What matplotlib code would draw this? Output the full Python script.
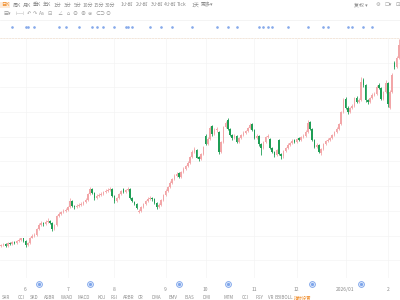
import matplotlib
matplotlib.use("Agg")
from matplotlib import pyplot as plt
from matplotlib.transforms import blended_transform_factory
import numpy as np

plt.rcParams['font.family'] = ['Noto Sans CJK SC', 'DejaVu Sans']

# daily K-line, late May 2025 -> early Feb 2026
open_ = [15.4, 15.5, 15.6, 15.4, 15.7, 15.6, 15.8, 15.7, 15.9, 16.0,
         16.2, 15.9, 15.5, 15.7, 16.3, 16.5, 16.6, 17.2, 17.6, 17.8,
         17.7, 17.9, 18.0, 17.8, 17.2, 17.6, 18.5, 18.7, 18.9, 19.0,
         19.1, 19.4, 20.0, 19.5, 19.4, 19.5, 19.6, 19.7, 19.9, 20.1,
         20.7, 21.2, 20.8, 20.3, 20.5, 20.6, 20.7, 20.9, 21.0, 21.1,
         21.2, 20.5, 20.0, 20.3, 20.7, 21.2, 20.9, 21.1, 21.2, 20.3,
         19.9, 19.7, 18.9, 19.0, 19.4, 19.7, 20.0, 20.2, 20.3, 20.2,
         19.8, 19.4, 19.6, 20.1, 20.6, 21.0, 21.4, 21.8, 22.2, 22.5,
         22.8, 22.4, 22.9, 23.2, 23.5, 23.8, 24.5, 25.0, 25.2, 24.5,
         24.2, 24.8, 26.6, 25.8, 26.3, 27.6, 26.8, 27.2, 27.0, 25.0,
         26.0, 27.5, 28.2, 27.3, 26.7, 26.4, 26.6, 26.0, 26.4, 26.7,
         26.9, 27.1, 27.4, 27.8, 27.2, 26.4, 26.6, 25.8, 25.4, 26.0,
         26.5, 26.3, 25.4, 25.0, 24.7, 26.2, 24.8, 24.6, 25.1, 25.4,
         25.7, 25.9, 26.2, 26.0, 26.4, 26.2, 26.5, 26.6, 27.0, 28.0,
         27.3, 26.2, 25.5, 25.7, 24.9, 25.3, 25.8, 26.1, 26.2, 26.4,
         26.7, 27.0, 27.3, 27.8, 29.0, 30.3, 29.4, 29.0, 29.4, 29.6,
         30.4, 30.0, 30.2, 32.2, 31.7, 30.2, 30.0, 30.4, 30.7, 30.8,
         31.7, 31.4, 30.3, 31.0, 31.9, 29.4, 31.0, 34.0, 33.6, 34.5]
close = [15.5, 15.6, 15.4, 15.7, 15.6, 15.8, 15.7, 15.9, 16.0, 16.2,
         15.9, 15.5, 15.7, 16.3, 16.5, 16.6, 17.2, 17.6, 17.8, 17.7,
         17.9, 18.0, 17.8, 17.2, 17.6, 18.5, 18.7, 18.9, 19.0, 19.1,
         19.4, 20.0, 19.5, 19.4, 19.5, 19.6, 19.7, 19.9, 20.1, 20.7,
         21.2, 20.8, 20.3, 20.5, 20.6, 20.7, 20.9, 21.0, 21.1, 21.2,
         20.5, 20.0, 20.3, 20.7, 21.0, 20.9, 21.1, 21.2, 20.3, 20.0,
         19.7, 19.3, 19.0, 19.4, 19.7, 20.0, 20.2, 20.3, 20.2, 19.8,
         19.4, 19.6, 20.1, 20.6, 21.0, 21.4, 21.8, 22.2, 22.5, 22.7,
         22.4, 22.9, 23.2, 23.5, 23.8, 24.5, 25.0, 25.3, 24.4, 24.2,
         24.8, 25.5, 25.8, 26.3, 27.4, 26.8, 27.2, 27.3, 25.0, 26.0,
         27.5, 27.9, 27.3, 26.7, 26.4, 26.6, 26.0, 26.4, 26.7, 26.9,
         27.1, 27.4, 27.7, 27.2, 26.4, 26.6, 25.8, 25.4, 26.0, 26.5,
         26.6, 25.4, 25.0, 24.7, 25.2, 24.8, 24.6, 25.1, 25.4, 25.7,
         25.9, 26.1, 26.0, 26.3, 26.2, 26.5, 26.6, 27.0, 27.9, 27.3,
         26.2, 25.5, 25.7, 25.0, 25.3, 25.8, 26.1, 26.2, 26.4, 26.7,
         27.0, 27.3, 27.8, 29.0, 30.2, 29.4, 29.0, 29.4, 29.6, 30.4,
         30.0, 30.2, 32.0, 31.7, 30.2, 30.0, 30.4, 30.7, 30.8, 31.5,
         31.4, 30.3, 31.0, 31.9, 29.8, 31.0, 32.8, 33.6, 34.5, 35.8]
high = [15.6, 15.7, 15.7, 15.8, 15.8, 15.9, 15.9, 16.0, 16.2, 16.3,
        16.3, 16.0, 15.8, 16.4, 16.7, 16.8, 17.3, 17.8, 18.0, 17.9,
        18.1, 18.3, 18.1, 17.9, 17.7, 18.6, 18.9, 19.0, 19.2, 19.3,
        19.5, 20.3, 20.1, 19.6, 19.7, 19.8, 19.9, 20.0, 20.3, 20.8,
        21.4, 21.3, 20.9, 20.7, 20.8, 20.9, 21.0, 21.2, 21.3, 21.4,
        21.3, 20.6, 20.4, 20.8, 21.1, 21.3, 21.2, 21.4, 21.3, 20.4,
        20.0, 19.8, 19.2, 19.5, 19.8, 20.1, 20.4, 20.5, 20.4, 20.3,
        19.9, 19.8, 20.2, 20.7, 21.2, 21.5, 22.0, 22.3, 22.7, 22.9,
        22.9, 23.0, 23.4, 23.6, 24.0, 24.6, 25.2, 25.5, 25.3, 24.6,
        24.9, 25.6, 26.8, 26.5, 27.6, 27.7, 27.4, 27.5, 27.1, 26.1,
        27.6, 28.1, 28.4, 27.4, 26.8, 26.8, 26.7, 26.5, 26.8, 27.1,
        27.2, 27.5, 27.9, 27.9, 27.3, 26.8, 26.7, 25.9, 26.1, 26.6,
        26.8, 26.4, 25.5, 25.1, 25.3, 26.3, 24.9, 25.2, 25.5, 25.9,
        26.0, 26.3, 26.3, 26.4, 26.5, 26.6, 26.8, 27.2, 28.2, 28.1,
        27.4, 26.3, 25.9, 25.8, 25.4, 25.9, 26.2, 26.4, 26.5, 26.8,
        27.1, 27.5, 27.9, 29.1, 30.4, 30.5, 29.6, 29.5, 29.8, 30.5,
        30.6, 30.4, 32.6, 32.4, 31.8, 30.3, 30.5, 30.9, 31.0, 31.7,
        31.9, 31.5, 31.1, 32.2, 32.0, 31.2, 33.0, 34.2, 34.7, 36.4]
low = [15.3, 15.4, 15.3, 15.3, 15.5, 15.5, 15.6, 15.6, 15.8, 15.9,
       15.8, 15.3, 15.4, 15.6, 16.2, 16.4, 16.5, 17.1, 17.5, 17.5,
       17.6, 17.8, 17.7, 17.0, 17.1, 17.5, 18.4, 18.6, 18.8, 18.9,
       19.0, 19.3, 19.4, 19.2, 19.3, 19.4, 19.5, 19.6, 19.8, 20.0,
       20.6, 20.7, 20.1, 20.2, 20.4, 20.5, 20.6, 20.8, 20.9, 21.0,
       20.4, 19.8, 19.9, 20.2, 20.6, 20.8, 20.8, 21.0, 20.2, 19.9,
       19.6, 19.2, 18.8, 18.9, 19.3, 19.6, 19.9, 20.1, 20.0, 19.7,
       19.2, 19.3, 19.5, 20.0, 20.5, 20.9, 21.3, 21.7, 22.1, 22.4,
       22.3, 22.3, 22.8, 23.1, 23.4, 23.7, 24.4, 24.9, 24.3, 24.0,
       24.1, 24.7, 25.7, 25.7, 26.2, 26.6, 26.7, 27.0, 24.8, 24.9,
       25.9, 27.4, 27.2, 26.6, 26.2, 26.3, 25.9, 25.9, 26.3, 26.6,
       26.8, 27.0, 27.3, 27.1, 26.3, 26.3, 25.6, 24.7, 25.3, 25.9,
       26.4, 25.3, 24.9, 24.5, 24.6, 24.7, 24.2, 24.4, 25.0, 25.3,
       25.6, 25.8, 25.9, 25.9, 26.1, 26.1, 26.4, 26.5, 26.9, 27.2,
       26.1, 25.4, 25.4, 24.9, 24.7, 25.2, 25.7, 26.0, 26.1, 26.3,
       26.6, 26.9, 27.2, 27.7, 28.9, 29.3, 28.8, 28.9, 29.3, 29.5,
       29.9, 29.9, 30.1, 31.5, 30.0, 29.8, 29.9, 30.3, 30.6, 30.7,
       31.3, 30.2, 30.2, 30.9, 29.5, 29.3, 30.9, 33.4, 33.5, 34.4]

month_idx = [11, 30, 51, 74, 92, 114, 133, 155, 174]
month_lbl = ['6', '7', '8', '9', '10', '11', '12', '2026/01', '2']
event_idx = [17, 40, 80, 102, 140, 162]
news_idx = [5, 11, 12, 15, 26, 29, 35, 41, 43, 46, 51, 56, 57, 59, 67, 72,
            77, 86, 97, 102, 106, 116, 118, 120, 122, 129, 138, 145, 147,
            156, 158, 163, 167]

periods = ['日K', '周K', '月K', '季K', '年K', '1分', '3分', '5分', '10分', '15分',
           '30分', '1小时', '2小时', '3小时', '4小时', 'Tick', '1天', '更多▾']
period_x = [5, 17, 27, 37, 47, 57, 68, 78, 88, 99, 110, 127, 142, 157, 170, 182, 195, 207]
tools = ['▤▾', '⊢⊣', '↶', '↷', 'Aa', '⊟', '∠', '⌂', '⊖', '⊕', '⊜', '⊂⊃', '⊙']
tool_x = [7, 20, 29, 35, 42, 50, 60, 68, 75, 83, 90, 100, 108]
indicators = ['SAR', 'CCI', 'SKD', 'ASBR', 'WVAD', 'MACD', 'KDJ', 'RSI', 'ARBR', 'CR',
              'DMA', 'EMV', 'BIAS', 'DMI', 'MTM', 'CCI', 'PSY', 'VR', 'BBIBOLL', '指标设置']
ind_x = [6, 21, 34, 50, 67, 84, 102, 114, 129, 141, 156, 173, 189, 207, 229, 245,
         259, 271, 284, 303]

o = np.array(open_)
c = np.array(close)
h = np.array(high)
l = np.array(low)
x = np.arange(len(c))
up = c >= o
col = np.where(up, '#f2a6a8', '#1e9e55')

fig = plt.figure(figsize=(4, 3), dpi=100)

# UI chrome drawn in pixel coords
ui = fig.add_axes([0, 0, 1, 1])
ui.set_xlim(0, 400)
ui.set_ylim(300, 0)
ui.axis('off')
for i, (t, px) in enumerate(zip(periods, period_x)):
    if i == 0:
        ui.text(px, 5, t, fontsize=3.6, color='#f08a24', ha='center', va='center',
                bbox=dict(boxstyle='square,pad=0.15', fc='#fdebd9', ec='none'))
    else:
        ui.text(px, 5, t, fontsize=3.6, color='#8c8c8c', ha='center', va='center')
for t, px in zip(tools, tool_x):
    ui.text(px, 13.5, t, fontsize=3.6, color='#9a9a9a', ha='center', va='center')
ui.text(361, 5, '复权 ▾', fontsize=3.6, color='#8c8c8c', ha='center', va='center')
ui.text(378, 5, '⚙', fontsize=3.8, color='#9a9a9a', ha='center', va='center')
ui.text(388, 5, '☐▾', fontsize=3.8, color='#9a9a9a', ha='center', va='center')
ui.text(398, 5, '⊡', fontsize=3.8, color='#9a9a9a', ha='center', va='center')
ui.axhline(19.5, color='#f0f0f0', lw=0.5)
ui.axhline(37.5, color='#f6c89c', lw=0.7, ls=(0, (2, 1)))
for t, px in zip(indicators, ind_x):
    clr = '#f08a24' if t == '指标设置' else '#8c8c8c'
    ui.text(px, 297.5, t, fontsize=3.2, color=clr, ha='center', va='center')

# candle chart
ax = fig.add_axes([0, 1 - 278 / 300, 1, 240 / 300])
ax.patch.set_alpha(0)
ax.vlines(x, l, h, colors=col, lw=0.6, zorder=2)
body = np.maximum(np.abs(c - o), 0.06)
ax.bar(x, body, bottom=np.minimum(o, c), width=0.7, color=col, lw=0, zorder=3)

ax.set_xlim(-0.5, len(c) - 0.5)
ax.set_ylim(12.2, 36.2)
ax.set_xticks(month_idx)
ax.set_xticklabels(month_lbl)
ax.set_yticks(np.arange(14, 37, 2.5))
ax.tick_params(axis='x', length=0, pad=6.5, labelsize=3.6, labelcolor='#8c8c8c')
ax.tick_params(axis='y', length=0, labelleft=False)
ax.grid(True, color='#f4f4f4', lw=0.5, zorder=0)
for s in ax.spines.values():
    s.set_visible(False)

tr = blended_transform_factory(ax.transData, ax.transAxes)
ax.plot(event_idx, [-0.026] * len(event_idx), 'o', ms=4.2, mfc='#dfeafc', mec='#7ea5ea',
        mew=0.6, transform=tr, clip_on=False)
ax.plot(event_idx, [-0.026] * len(event_idx), 'o', ms=1.3, color='#7ea5ea',
        transform=tr, clip_on=False)
ax.plot(news_idx, [1.046] * len(news_idx), 'o', ms=0.9, color='#86aaea',
        transform=tr, clip_on=False)

fig.savefig('out.png', dpi=100)
